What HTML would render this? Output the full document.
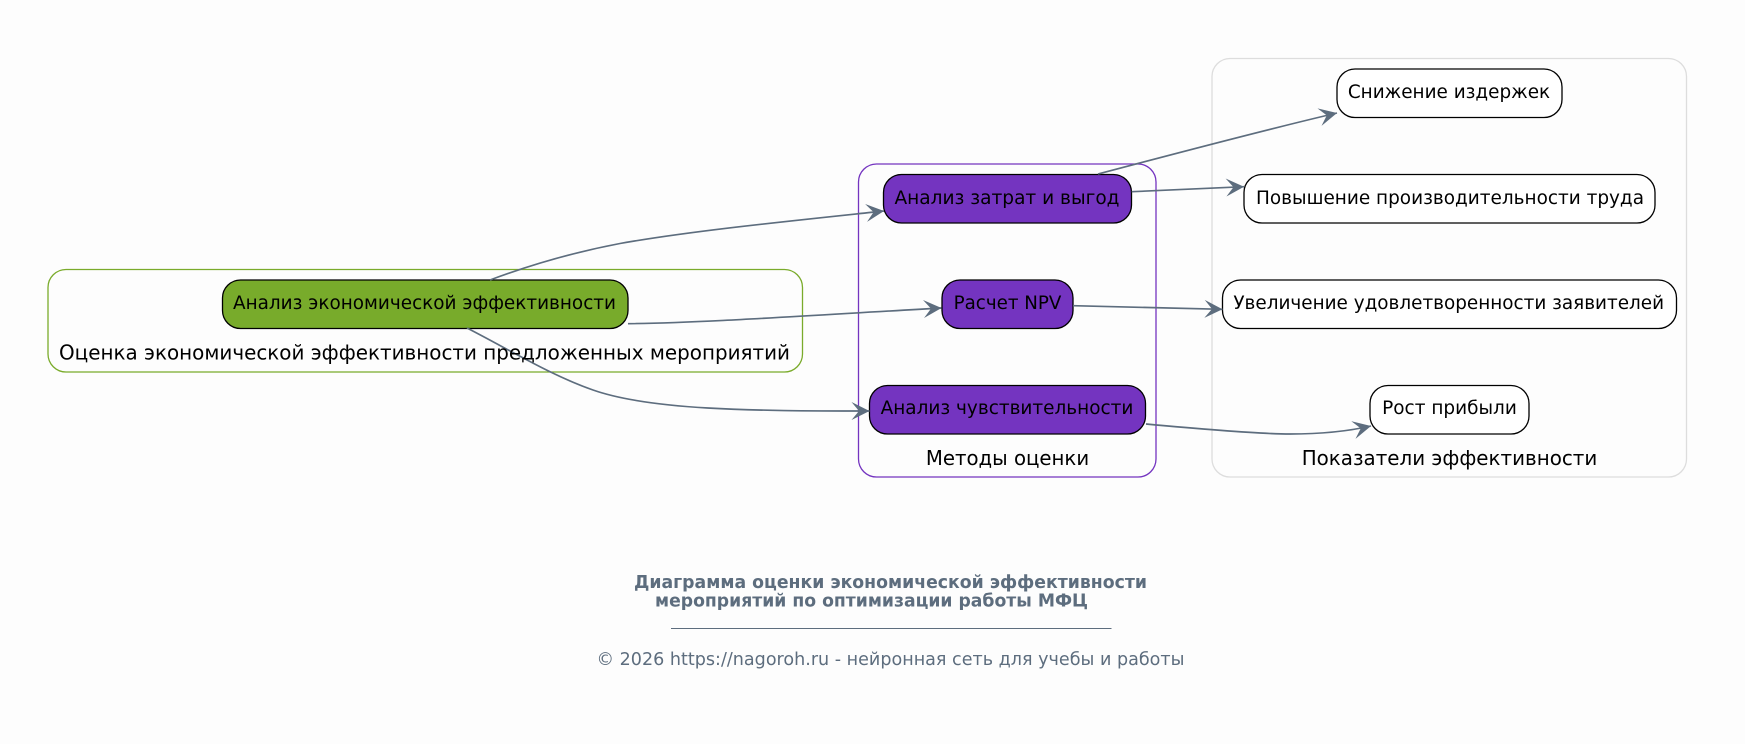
<!DOCTYPE html>
<html><head><meta charset="utf-8">
<style>
html,body{margin:0;padding:0;background:#fdfdfd;}
svg{display:block;}
text{font-family:"DejaVu Sans",sans-serif;}
.n{font-size:18.67px;fill:#000;text-anchor:middle;}
.c{font-size:20px;fill:#000;text-anchor:middle;}
.e{fill:none;stroke:#5d6d7e;stroke-width:1.65;marker-end:url(#a);}
.b{stroke:#000;stroke-width:1.3;}
.t{fill:#5d6d7e;text-anchor:middle;}
</style></head>
<body>
<svg width="1745" height="744" viewBox="0 0 1745 744" xmlns="http://www.w3.org/2000/svg">
<defs>
<marker id="a" markerUnits="userSpaceOnUse" markerWidth="22" markerHeight="22" refX="18" refY="10" orient="auto">
<path d="M0,1 L18,10 L0,19 L7.5,10 Z" fill="#5d6d7e"/>
</marker>
</defs>
<rect width="1745" height="744" fill="#fdfdfd"/>
<rect x="48" y="269.5" width="754.5" height="102.5" rx="18" fill="#fff" fill-opacity="0.3" stroke="#7aab2b" stroke-width="1.3"/>
<rect x="858.5" y="164" width="297.5" height="313" rx="18" fill="#fff" fill-opacity="0.3" stroke="#7434c0" stroke-width="1.3"/>
<rect x="1212" y="58.5" width="474.5" height="418.5" rx="18" fill="#fff" fill-opacity="0.3" stroke="#dddddd" stroke-width="1.3"/>

<rect class="b" x="222.5" y="280" width="405.5" height="48.5" rx="18" fill="#78ab2b"/>
<rect class="b" x="883.5" y="174.5" width="248" height="48.5" rx="18" fill="#7434c0"/>
<rect class="b" x="942" y="280" width="131" height="48.5" rx="18" fill="#7434c0"/>
<rect class="b" x="869.5" y="385.5" width="276" height="48.5" rx="18" fill="#7434c0"/>
<rect class="b" x="1337" y="69" width="225" height="48.5" rx="18" fill="#fff"/>
<rect class="b" x="1244" y="174.5" width="411" height="48.5" rx="18" fill="#fff"/>
<rect class="b" x="1222.5" y="280" width="454" height="48.5" rx="18" fill="#fff"/>
<rect class="b" x="1370" y="385.5" width="159" height="48.5" rx="18" fill="#fff"/>

<path class="e" d="M490,280 C530,265 570,253 620,243.5 C690,231 790,221 884,211"/>
<path class="e" d="M628,323.7 C700,323 800,316 941.5,308"/>
<path class="e" d="M467,328 C510,350 550,375 593,390 C650,410 750,411 869.5,411"/>
<path class="e" d="M1098,174 C1170,155 1260,131 1337,113"/>
<path class="e" d="M1131.7,191.7 L1244,186.7"/>
<path class="e" d="M1073,305.7 L1222.5,309.3"/>
<path class="e" d="M1146,424 C1200,429 1260,434 1290,434 C1320,434 1345,432 1371,426"/>

<text class="n" x="424.5" y="309" textLength="383" lengthAdjust="spacingAndGlyphs">Анализ экономической эффективности</text>
<text class="c" x="424.5" y="359.5" textLength="731" lengthAdjust="spacingAndGlyphs">Оценка экономической эффективности предложенных мероприятий</text>
<text class="n" x="1007" y="204" textLength="225" lengthAdjust="spacingAndGlyphs">Анализ затрат и выгод</text>
<text class="n" x="1007.5" y="309" textLength="107.7" lengthAdjust="spacingAndGlyphs">Расчет NPV</text>
<text class="n" x="1007" y="414" textLength="252.7" lengthAdjust="spacingAndGlyphs">Анализ чувствительности</text>
<text class="c" x="1007.5" y="465" textLength="163.3" lengthAdjust="spacingAndGlyphs">Методы оценки</text>
<text class="n" x="1449" y="98" textLength="202.3" lengthAdjust="spacingAndGlyphs">Снижение издержек</text>
<text class="n" x="1450" y="204" textLength="388" lengthAdjust="spacingAndGlyphs">Повышение производительности труда</text>
<text class="n" x="1448.7" y="309" textLength="430.7" lengthAdjust="spacingAndGlyphs">Увеличение удовлетворенности заявителей</text>
<text class="n" x="1449.5" y="414" textLength="134.7" lengthAdjust="spacingAndGlyphs">Рост прибыли</text>
<text class="c" x="1449.5" y="465" textLength="295.6" lengthAdjust="spacingAndGlyphs">Показатели эффективности</text>

<text class="t" x="890.5" y="588" font-size="17.33" font-weight="bold" textLength="513" lengthAdjust="spacingAndGlyphs">Диаграмма оценки экономической эффективности</text>
<text class="t" x="871.5" y="606.5" font-size="17.33" font-weight="bold" textLength="433" lengthAdjust="spacingAndGlyphs">мероприятий по оптимизации работы МФЦ</text>
<line x1="671" y1="628.5" x2="1111.5" y2="628.5" stroke="#5d6d7e" stroke-width="1"/>
<text class="t" x="890.5" y="665" font-size="17.5" textLength="588" lengthAdjust="spacingAndGlyphs">© 2026 https://nagoroh.ru - нейронная сеть для учебы и работы</text>
</svg>
</body></html>
